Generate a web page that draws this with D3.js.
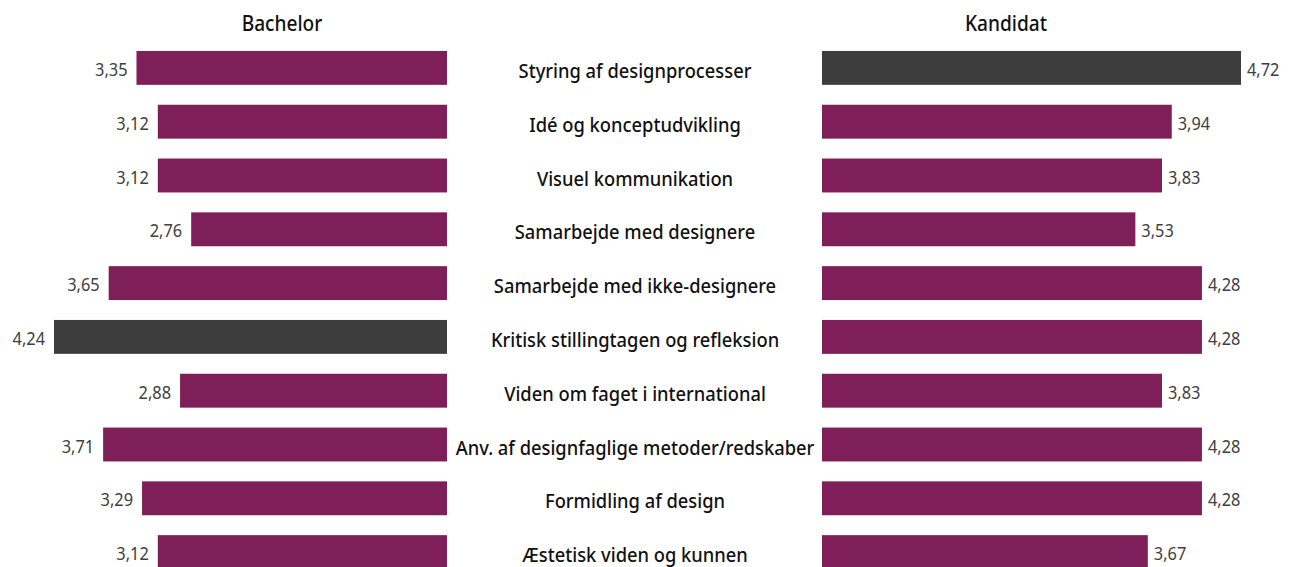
<!DOCTYPE html>
<html>
<head>
<meta charset="utf-8">
<script src="https://cdn.jsdelivr.net/npm/d3@7"></script>
<style>
  body { margin: 0; background: #fff; }
  svg text { font-family: "Noto Sans", "Open Sans", sans-serif; }
</style>
</head>
<body>
<svg id="chart" width="1298" height="567"></svg>
<script>
const categories = [
  "Styring af designprocesser",
  "Idé og konceptudvikling",
  "Visuel kommunikation",
  "Samarbejde med designere",
  "Samarbejde med ikke-designere",
  "Kritisk stillingtagen og refleksion",
  "Viden om faget i international",
  "Anv. af designfaglige metoder/redskaber",
  "Formidling af design",
  "Æstetisk viden og kunnen"
];
const bachelor = [3.35, 3.12, 3.12, 2.76, 3.65, 4.24, 2.88, 3.71, 3.29, 3.12];
const kandidat = [4.72, 3.94, 3.83, 3.53, 4.28, 4.28, 3.83, 4.28, 4.28, 3.67];
const groups = ["Bachelor", "Kandidat"];

const width = 1298, height = 567;
const purple = "#7f1f5a", dark = "#3d3d3d";
const fmt = v => d3.format(".2f")(v).replace(".", ",");
// the source font is a bit narrower than Noto Sans, so squeeze text horizontally
const place = (x, y, s = 0.91) => `translate(${x},${y}) scale(${s},1)`;

const svg = d3.select("#chart");

const y = d3.scaleBand()
  .domain(categories)
  .range([41, 579])
  .paddingInner(0.37)
  .paddingOuter(0.185);

const xLeft = d3.scaleLinear().domain([0, d3.max(bachelor)]).range([447, 54]);
const xRight = d3.scaleLinear().domain([0, d3.max(kandidat)]).range([822, 1241]);
const mid = d => y(d) + y.bandwidth() / 2;

// headers
svg.selectAll("text.header")
  .data(groups)
  .join("text")
  .attr("class", "header")
  .attr("transform", (d, i) => place(i === 0 ? 282 : 1006, 31))
  .attr("text-anchor", "middle")
  .attr("font-size", 21)
  .attr("font-weight", 500)
  .attr("fill", "#111")
  .text(d => d);

const bMax = d3.max(bachelor), kMax = d3.max(kandidat);

// left bars
const left = svg.append("g");
left.selectAll("rect")
  .data(bachelor)
  .join("rect")
  .attr("x", d => xLeft(d))
  .attr("y", (d, i) => y(categories[i]))
  .attr("width", d => xLeft(0) - xLeft(d))
  .attr("height", y.bandwidth())
  .attr("fill", d => d === bMax ? dark : purple);
left.selectAll("text")
  .data(bachelor)
  .join("text")
  .attr("transform", (d, i) => place(xLeft(d) - 9, mid(categories[i]) + 8))
  .attr("text-anchor", "end")
  .attr("font-size", 18)
  .attr("fill", "#404040")
  .text(fmt);

// right bars
const right = svg.append("g");
right.selectAll("rect")
  .data(kandidat)
  .join("rect")
  .attr("x", xRight(0))
  .attr("y", (d, i) => y(categories[i]))
  .attr("width", d => xRight(d) - xRight(0))
  .attr("height", y.bandwidth())
  .attr("fill", d => d === kMax ? dark : purple);
right.selectAll("text")
  .data(kandidat)
  .join("text")
  .attr("transform", (d, i) => place(xRight(d) + 6, mid(categories[i]) + 8))
  .attr("font-size", 18)
  .attr("fill", "#404040")
  .text(fmt);

// category labels in the middle
svg.append("g").selectAll("text")
  .data(categories)
  .join("text")
  .attr("transform", d => place(635, mid(d) + 10, 0.94))
  .attr("text-anchor", "middle")
  .attr("font-size", 19.5)
  .attr("font-weight", 500)
  .attr("fill", "#111")
  .text(d => d);
</script>
</body>
</html>
